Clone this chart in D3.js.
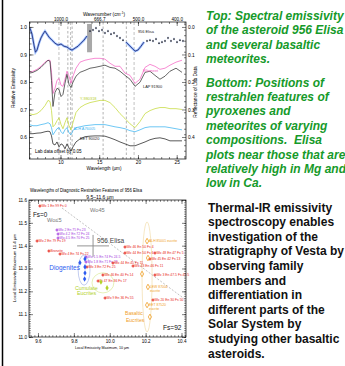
<!DOCTYPE html>
<html>
<head>
<meta charset="utf-8">
<script src="https://cdn.jsdelivr.net/npm/d3@7"></script>
<style>
body { margin: 0; background: #fff; }
svg { display: block; }
text { font-family: "Liberation Sans", Arial, Helvetica, sans-serif; }
</style>
</head>
<body>
<svg></svg>
<script>
let width = 345, height = 366;

// ---------- top panel: emissivity spectra (lab data offset by 0.05) ----------
const labWl = [6.0, 6.45, 6.97, 7.48, 8.0, 8.39, 8.65, 8.84, 9.03, 9.29, 9.55, 9.81, 10.07, 10.32, 10.58, 10.84, 11.1, 11.36, 11.61, 12.0, 12.52, 13.16, 13.81, 14.45, 15.1, 15.74, 16.39, 17.04, 17.68, 18.33, 18.97, 19.62, 20.26, 20.91, 21.55, 22.2, 22.84, 23.49, 24.13, 24.91, 25.68];
const ellemeet = [.835, .839, .846, .857, .872, .879, .879, .835, .758, .777, .806, .813, .788, .784, .810, .839, .821, .795, .821, .850, .872, .879, .883, .886, .886, .883, .868, .857, .857, .832, .824, .795, .810, .853, .864, .857, .846, .850, .861, .872, .879];
const lap91900 = [.832, .835, .842, .853, .868, .879, .875, .806, .711, .762, .777, .773, .747, .755, .795, .828, .791, .780, .799, .821, .835, .842, .850, .853, .857, .861, .853, .850, .839, .824, .810, .784, .799, .835, .839, .824, .810, .821, .839, .850, .835];
const y980318 = [.685, .681, .685, .696, .714, .733, .729, .696, .637, .645, .659, .670, .645, .630, .652, .670, .641, .626, .652, .689, .707, .718, .725, .729, .733, .733, .725, .707, .685, .667, .648, .634, .656, .685, .696, .703, .707, .707, .703, .703, .700];
const alhA76005 = [.645, .641, .641, .645, .648, .652, .648, .634, .608, .619, .630, .634, .619, .612, .626, .634, .615, .608, .623, .634, .637, .641, .643, .645, .645, .645, .641, .637, .634, .630, .623, .619, .626, .634, .637, .637, .637, .637, .634, .630, .626];
const eet90020 = [.612, .612, .614, .615, .619, .621, .619, .604, .575, .571, .582, .564, .575, .571, .557, .575, .560, .549, .564, .582, .593, .601, .603, .604, .604, .603, .597, .590, .582, .575, .568, .568, .575, .582, .590, .595, .597, .593, .586, .586, .586];

const elisaWl = [6.06, 6.32, 6.58, 6.77, 6.97, 7.23, 7.48, 7.74, 8.0, 8.26, 8.52, 8.9, 9.29, 9.68, 10.07, 10.45, 10.84, 11.23, 11.49, 11.87, 12.26, 12.65, 13.03, 13.42, 13.81, 14.2, 14.58, 14.97, 15.36, 15.74, 16.13, 16.52, 16.91, 17.29, 17.68, 18.07, 18.45, 18.84, 19.23, 19.62, 20.0, 20.39, 20.78, 21.17, 21.55, 21.94, 22.33, 22.72, 23.1, 23.49, 23.88, 24.26, 24.65, 25.04, 25.42, 25.81];
const elisaEm = [.996, .974, .934, .908, .916, .941, .960, .974, .985, .974, .963, .952, .941, .934, .938, .930, .927, .919, .916, .923, .930, .941, .952, .967, .985, .989, .996, .985, .989, .978, .985, .974, .978, .967, .960, .952, .945, .934, .923, .912, .916, .930, .945, .949, .952, .949, .956, .941, .945, .949, .960, .949, .956, .945, .952, .949];

const featureDark = [10.95, 11.5, 15.5, 18.5];
const featureLight = [9.8, 11.3, 19.5];
const shadeWl = [13.43, 14.07], shadeEm = [0.908, 1.011];
const wlTicks = [10, 15, 20, 25];
const emisTicks = [0.6, 0.7, 0.8, 0.9, 1.0];
const reflTicks = [0.0, 0.1, 0.2, 0.3, 0.4];

// ---------- bottom panel: restrahlen feature positions ----------
const pyxLabel = ["Wo 1 En 99 Fs 0", "Wo 2 En 79 Fs 19", "Bronzite", "Wo 4 En 74 Fs 22", "Wo 3 En 72 Fs 25",
  "Wo 2 En 75 Fs 23", "Wo 4.2 En 72 Fs 24", "Wo 4.5 En 70 Fs 25", "Wo 1.5 En 74 Fs 24.5", "Wo 1.8 En 71 Fs 27",
  "Wo 44 En 45 Fs 11", "Wo 46 En 50 Fs 4", "Wo 44 En 50 Fs 6", "Wo 48 En 47 Fs 5", "Wo 45 En 42 Fs 13",
  "Wo 43 En 46 Fs 11", "Wo 46 En 40 Fs 14", "Di 47 En 36 Fs 17", "Wo 3 En 47.5 Fs 49.5", "Wo 9 En 36 Fs 55",
  "Wo 20 En 30 Fs 50"];
const pyxX = [9.611, 9.595, 9.661, 9.723, 9.873, 9.706, 9.712, 9.712, 9.868, 9.868,
  10.018, 10.085, 10.085, 10.252, 10.224, 10.13, 9.962, 9.935, 10.252, 9.974, 10.241];
const pyxY = [11.574, 11.42, 11.377, 11.364, 11.307, 11.469, 11.451, 11.434, 11.35, 11.329,
  11.324, 11.394, 11.368, 11.368, 11.342, 11.311, 11.272, 11.245, 11.272, 11.171, 11.162];
const pyxLowCa = [0, 0, 0, 0, 0, 1, 1, 1, 1, 1, 0, 0, 0, 0, 0, 0, 0, 0, 0, 0, 0];

const diogX = [9.834, 9.862, 9.862, 9.862, 9.860];
const diogY = [11.325, 11.342, 11.307, 11.280, 11.254];
const cumX = [9.951, 9.985];
const cumY = [11.241, 11.215];
const basX = [10.208, 10.213, 10.180, 10.213, 10.208, 10.224];
const basY = [11.420, 11.346, 11.276, 11.219, 11.140, 11.088];
const basName = ["ALH 85001 eucrite", "", "", "LEW 87004|eucrite", "EET 87520|eucrite", ""];

// group ellipses [cx, cy, rx, ry]
const diogArea = [9.857, 11.293, 0.033, 0.066];
const cumArea = [9.962, 11.237, 0.061, 0.044];
const basArea = [10.208, 11.263, 0.028, 0.241];

const elisaPos = [9.907, 11.399], elisaErr = [0.089, 0.048];
const fsLineX = [9.734, 10.425], fsLineY = [11.565, 11.162];
const bxTicks = [9.6, 9.8, 10.0, 10.2, 10.4];
const byTicks = [11.0, 11.1, 11.2, 11.3, 11.4, 11.5, 11.6];

const greenText = [
  ["Top: Spectral emissivity", "of the asteroid 956 Elisa", "and several basaltic", "meteorites."],
  ["Bottom: Positions of", "restrahlen features of", "pyroxenes and", "meteorites of varying",
   "compositions.  Elisa", "plots near those that are", "relatively high in Mg and", "low in Ca."]
];
const blackText = ["Thermal-IR emissivity", "spectroscopy enables", "investigation of the",
  "stratigraphy of Vesta by", "observing family", "members and", "differentiation in",
  "different parts of the", "Solar System by", "studying other basaltic", "asteroids."];

let svg = d3.select("svg").attr("width", width).attr("height", height);

svg.append("line").attr("x1", 2.5).attr("x2", 2.5).attr("y1", 0).attr("y2", height)
  .attr("stroke", "#000").attr("stroke-width", 1.5);

function styleAxis(g, fs) {
  g.select(".domain").remove();
  g.selectAll("line").attr("stroke", "#000").attr("stroke-width", 0.5);
  g.selectAll("text").attr("font-size", fs).attr("fill", "#000")
    .style("font-family", "'Liberation Sans', Arial, sans-serif");
}

function minorTicks(g, axis, vals, len) {
  g.call(axis.tickValues(vals).tickSize(-len).tickFormat(""));
  styleAxis(g, 1);
}

// ================= TOP PANEL =================
let tX = d3.scaleLinear().domain([6, 26.2]).range([29.5, 186]);
let tY = d3.scaleLinear().domain([0.52, 1.018]).range([159, 22]);
let tR = d3.scaleLinear().domain([0.48, -0.018]).range([159, 22]);

svg.append("clipPath").attr("id", "clipTop").append("rect")
  .attr("x", 29.5).attr("y", 22).attr("width", 156.5).attr("height", 137);

let topG = svg.append("g");
let plotTop = topG.append("g").attr("clip-path", "url(#clipTop)");

// grey shaded region
plotTop.append("rect")
  .attr("x", tX(shadeWl[0])).attr("width", tX(shadeWl[1]) - tX(shadeWl[0]))
  .attr("y", tY(shadeEm[1])).attr("height", tY(shadeEm[0]) - tY(shadeEm[1]))
  .attr("fill", "#a8a8a8");

// feature lines
plotTop.selectAll(".fl").data(featureLight).enter().append("line")
  .attr("x1", d => tX(d)).attr("x2", d => tX(d)).attr("y1", 22).attr("y2", 159)
  .attr("stroke", "#bbb").attr("stroke-width", 0.9).attr("stroke-dasharray", "3,2");
plotTop.selectAll(".fd").data(featureDark).enter().append("line")
  .attr("x1", d => tX(d)).attr("x2", d => tX(d)).attr("y1", 22).attr("y2", 159)
  .attr("stroke", "#555").attr("stroke-width", 0.45).attr("stroke-dasharray", "2.5,2");

let specLine = d3.line().x(d => tX(d[0])).y(d => tY(d[1]));
let spectra = [
  { vals: ellemeet, color: "#f466c4" },
  { vals: lap91900, color: "#333" },
  { vals: y980318, color: "#c4da3a" },
  { vals: alhA76005, color: "#3db4f0" },
  { vals: eet90020, color: "#222" }
];
spectra.forEach(s => {
  plotTop.append("path").datum(labWl.map((w, i) => [w, s.vals[i]]))
    .attr("fill", "none").attr("stroke", s.color).attr("stroke-width", 0.75)
    .attr("stroke-linejoin", "round").attr("d", specLine);
});

// Elisa: continuous segments + individual points with error bars
let elisa = elisaWl.map((w, i) => [w, elisaEm[i]]);
let inLine = d => d[0] < 13.7 || (d[0] > 18.2 && d[0] < 21.0);
let elisaLine = d3.line().defined(inLine).x(d => tX(d[0])).y(d => tY(d[1]));
plotTop.append("path").datum(elisa).attr("fill", "none").attr("stroke", "#86b0ff")
  .attr("stroke-width", 2.4).attr("stroke-opacity", 0.8).attr("d", elisaLine);
plotTop.append("path").datum(elisa).attr("fill", "none").attr("stroke", "#18206a")
  .attr("stroke-width", 0.8).attr("d", elisaLine);
let pts = elisa.filter(d => !inLine(d));
plotTop.selectAll(".ee").data(pts).enter().append("line")
  .attr("x1", d => tX(d[0])).attr("x2", d => tX(d[0]))
  .attr("y1", d => tY(d[1] - 0.005)).attr("y2", d => tY(d[1] + 0.005))
  .attr("stroke", "#6a8ae8").attr("stroke-width", 0.5);
plotTop.selectAll(".ep").data(pts).enter().append("line")
  .attr("x1", d => tX(d[0]) - 1).attr("x2", d => tX(d[0]) + 1)
  .attr("y1", d => tY(d[1])).attr("y2", d => tY(d[1]))
  .attr("stroke", "#111").attr("stroke-width", 1);

// curve labels
let lab = (x, y, t, c) => topG.append("text").attr("x", tX(x)).attr("y", tY(y))
  .attr("font-size", 3.9).attr("fill", c).text(t);
lab(20.0, 0.977, "956 Elisa", "#222");
lab(20.65, 0.837, "Ellemeet", "#f466c4");
lab(20.65, 0.778, "LAP 91900", "#222");
lab(12.52, 0.736, "Y-980318", "#b8cf30");
lab(11.67, 0.625, "ALH A76005", "#3db4f0");
lab(12.52, 0.589, "EET 90020", "#222");
topG.append("text").attr("x", tX(6.7)).attr("y", tY(0.54)).attr("font-size", 4.6)
  .text("Lab data offset by  0.05");

// frame + axes
topG.append("rect").attr("x", 29.5).attr("y", 22).attr("width", 156.5).attr("height", 137)
  .attr("fill", "none").attr("stroke", "#000").attr("stroke-width", 0.7);

let wlMinor = d3.range(6, 27, 1);
let emMinor = d3.range(0.54, 1.02, 0.02);
let rfMinor = d3.range(-0.01, 0.48, 0.02);

let gb = topG.append("g").attr("transform", "translate(0,159)");
gb.call(d3.axisBottom(tX).tickValues(wlTicks).tickSize(-4).tickPadding(1.8).tickFormat(d3.format("d")));
styleAxis(gb, 4.8);
minorTicks(topG.append("g").attr("transform", "translate(0,159)"), d3.axisBottom(tX), wlMinor, 2);

let gt = topG.append("g").attr("transform", "translate(0,22)");
gt.call(d3.axisTop(tX).tickValues(wlTicks).tickSize(-4).tickPadding(1.5).tickFormat(d => (1e4 / d).toFixed(1)));
styleAxis(gt, 4.6);
minorTicks(topG.append("g").attr("transform", "translate(0,22)"), d3.axisTop(tX), wlMinor, 2);

let gl = topG.append("g").attr("transform", "translate(29.5,0)");
gl.call(d3.axisLeft(tY).tickValues(emisTicks).tickSize(-4).tickPadding(2.5).tickFormat(d3.format(".1f")));
styleAxis(gl, 4.8);
minorTicks(topG.append("g").attr("transform", "translate(29.5,0)"), d3.axisLeft(tY), emMinor, 2);

let gr = topG.append("g").attr("transform", "translate(186,0)");
gr.call(d3.axisRight(tR).tickValues(reflTicks).tickSize(-4).tickPadding(2).tickFormat(d3.format(".1f")));
styleAxis(gr, 4.8);
minorTicks(topG.append("g").attr("transform", "translate(186,0)"), d3.axisRight(tR), rfMinor, 2);

let wn = topG.append("text").attr("x", 104).attr("y", 16).attr("text-anchor", "middle").attr("font-size", 4.8);
wn.append("tspan").text("Wavenumber (cm");
wn.append("tspan").attr("font-size", 3.2).attr("dy", -1.6).text("-1");
wn.append("tspan").attr("dy", 1.6).text(")");
topG.append("text").attr("x", 104).attr("y", 169.5).attr("text-anchor", "middle").attr("font-size", 4.6)
  .text("Wavelength (\u00b5m)");
topG.append("text").attr("transform", "translate(14.5,88) rotate(-90)").attr("text-anchor", "middle")
  .attr("font-size", 4.8).text("Relative Emissivity");
topG.append("text").attr("transform", "translate(197,92) rotate(-90)").attr("text-anchor", "middle")
  .attr("font-size", 4.8).text("Reflectance of Lab Data");

// ================= BOTTOM PANEL =================
let bX = d3.scaleLinear().domain([9.55, 10.425]).range([29, 186]);
let bY = d3.scaleLinear().domain([11.0, 11.6]).range([337, 200]);
let botG = svg.append("g");

botG.append("text").attr("x", 86).attr("y", 192).attr("text-anchor", "middle").attr("font-size", 5)
  .attr("textLength", 112).attr("lengthAdjust", "spacingAndGlyphs")
  .text("Wavelengths of Diagnostic Restrahlen Features of 956 Elisa");
botG.append("text").attr("x", 100).attr("y", 198.5).attr("text-anchor", "middle").attr("font-size", 5)
  .text("9.5\u201311.6 \u00b5m");

// group ellipses
let ell = (a, c) => botG.append("ellipse")
  .attr("cx", bX(a[0])).attr("cy", bY(a[1]))
  .attr("rx", bX(a[0] + a[2]) - bX(a[0])).attr("ry", bY(a[1]) - bY(a[1] + a[3]))
  .attr("fill", "none").attr("stroke", c).attr("stroke-width", 0.7);
ell(diogArea, "#a9b8ea");
ell(cumArea, "#dbe99a");
ell(basArea, "#f2dcaa");

// diagonal composition line
botG.append("line").attr("x1", bX(fsLineX[0])).attr("y1", bY(fsLineY[0]))
  .attr("x2", bX(fsLineX[1])).attr("y2", bY(fsLineY[1]))
  .attr("stroke", "#999").attr("stroke-width", 0.6).attr("stroke-dasharray", "2,1.6");

// Elisa cross
botG.append("line").attr("x1", bX(elisaPos[0] - elisaErr[0])).attr("x2", bX(elisaPos[0] + elisaErr[0]))
  .attr("y1", bY(elisaPos[1])).attr("y2", bY(elisaPos[1])).attr("stroke", "#888").attr("stroke-width", 0.9);
botG.append("line").attr("x1", bX(elisaPos[0])).attr("x2", bX(elisaPos[0]))
  .attr("y1", bY(elisaPos[1] - elisaErr[1])).attr("y2", bY(elisaPos[1] + elisaErr[1]))
  .attr("stroke", "#888").attr("stroke-width", 0.9);
botG.append("text").attr("x", bX(9.929)).attr("y", bY(11.412)).attr("font-size", 6.6)
  .attr("fill", "#444").text("956 Elisa");

// pyroxene standards
let plus = d3.symbol().type(d3.symbolCross).size(5);
pyxLabel.forEach((t, i) => {
  let c = pyxLowCa[i] ? "#a43ee0" : "#e8261c";
  botG.append("path").attr("d", plus).attr("fill", c)
    .attr("transform", `translate(${bX(pyxX[i])},${bY(pyxY[i])})`);
  botG.append("text").attr("x", bX(pyxX[i]) + 1.5).attr("y", bY(pyxY[i]) + 1.2)
    .attr("font-size", 3.4).attr("fill", c).text(t);
});

// meteorite groups
let dia = d3.symbol().type(d3.symbolDiamond).size(9);
diogX.forEach((x, i) => botG.append("path").attr("d", dia).attr("fill", "#2d5bf0")
  .attr("transform", `translate(${bX(x)},${bY(diogY[i])})`));
cumX.forEach((x, i) => botG.append("path").attr("d", dia).attr("fill", "#b4d22c")
  .attr("transform", `translate(${bX(x)},${bY(cumY[i])})`));
basX.forEach((x, i) => {
  botG.append("path").attr("d", dia).attr("fill", "none").attr("stroke", "#f0a028").attr("stroke-width", 0.8)
    .attr("transform", `translate(${bX(x)},${bY(basY[i])})`);
  basName[i].split("|").forEach((t, k) => {
    if (t) botG.append("text").attr("x", bX(x) + 2).attr("y", bY(basY[i]) + 1.2 + k * 3.6)
      .attr("font-size", 3.4).attr("fill", "#f0a028").text(t);
  });
});

let btxt = (x, y, t, fs, c, anchor) => botG.append("text").attr("x", bX(x)).attr("y", bY(y))
  .attr("font-size", fs).attr("fill", c).attr("text-anchor", anchor || "start").text(t);
btxt(9.572, 11.527, "Fs=0", 6.4, "#111");
btxt(9.65, 11.504, "Wo\u22645", 5.7, "#777");
btxt(9.89, 11.548, "Wo45", 5.7, "#777");
btxt(9.834, 11.293, "Diogenites", 6.5, "#2d5bf0", "end");
btxt(9.806, 11.206, "Cumulate", 5.3, "#b4d22c");
btxt(9.818, 11.184, "Eucrites", 5.3, "#b4d22c");
btxt(10.085, 11.096, "Basaltic", 5.1, "#f0a028");
btxt(10.09, 11.066, "Eucrites", 5.1, "#f0a028");
btxt(10.297, 11.031, "Fs=92", 6.6, "#111");

// frame + axes
botG.append("rect").attr("x", 29).attr("y", 200).attr("width", 157).attr("height", 137)
  .attr("fill", "none").attr("stroke", "#000").attr("stroke-width", 0.7);
let bxMinor = d3.range(9.56, 10.43, 0.02);
let byMinor = d3.range(11.0, 11.6, 0.01);

let bb = botG.append("g").attr("transform", "translate(0,337)");
bb.call(d3.axisBottom(bX).tickValues(bxTicks).tickSize(-4).tickPadding(3).tickFormat(d3.format(".1f")));
styleAxis(bb, 4.6);
minorTicks(botG.append("g").attr("transform", "translate(0,337)"), d3.axisBottom(bX), bxMinor, 1.8);
let bt = botG.append("g").attr("transform", "translate(0,200)");
bt.call(d3.axisTop(bX).tickValues(bxTicks).tickSize(-4).tickFormat(""));
styleAxis(bt, 1);
minorTicks(botG.append("g").attr("transform", "translate(0,200)"), d3.axisTop(bX), bxMinor, 1.8);

let bl = botG.append("g").attr("transform", "translate(29,0)");
bl.call(d3.axisLeft(bY).tickValues(byTicks).tickSize(-4).tickPadding(2).tickFormat(d3.format(".1f")));
styleAxis(bl, 4.6);
minorTicks(botG.append("g").attr("transform", "translate(29,0)"), d3.axisLeft(bY), byMinor, 1.8);
let br = botG.append("g").attr("transform", "translate(186,0)");
br.call(d3.axisRight(bY).tickValues(byTicks).tickSize(-4).tickFormat(""));
styleAxis(br, 1);
minorTicks(botG.append("g").attr("transform", "translate(186,0)"), d3.axisRight(bY), byMinor, 1.8);

botG.append("text").attr("x", 102).attr("y", 349).attr("text-anchor", "middle").attr("font-size", 4.4)
  .attr("textLength", 54).attr("lengthAdjust", "spacingAndGlyphs")
  .text("Local Emissivity Maximum, 10 \u00b5m");
botG.append("text").attr("transform", "translate(16,268) rotate(-90)").attr("text-anchor", "middle")
  .attr("font-size", 4.4).text("Local Emissivity Maximum 11.4 \u00b5m");

// ================= RIGHT TEXT =================
let txt = svg.append("g");
greenText[0].forEach((t, i) => txt.append("text").attr("x", 206).attr("y", 19.5 + i * 14.5)
  .attr("font-size", 12).attr("font-weight", "bold").attr("font-style", "italic")
  .attr("fill", "#169a2a").text(t));
greenText[1].forEach((t, i) => txt.append("text").attr("x", 206).attr("y", 86.5 + i * 14.4)
  .attr("font-size", 12).attr("font-weight", "bold").attr("font-style", "italic")
  .attr("fill", "#169a2a").style("white-space", "pre").text(t));
blackText.forEach((t, i) => txt.append("text").attr("x", 208).attr("y", 211.5 + i * 14.6)
  .attr("font-size", 12).attr("font-weight", "bold").attr("fill", "#111").text(t));
</script>
</body>
</html>
